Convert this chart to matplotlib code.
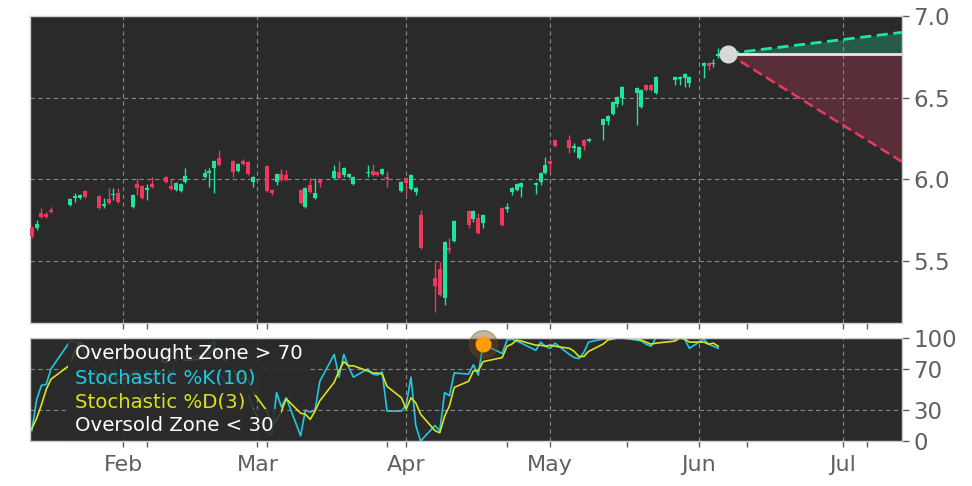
import numpy as np
import pandas as pd
import matplotlib
matplotlib.use("Agg")
import matplotlib.pyplot as plt
import matplotlib.dates as mdates

# ---------------- data ----------------
holidays = ["2025-01-20", "2025-02-17", "2025-04-18", "2025-05-26"]
dates = pd.bdate_range("2025-01-13", "2025-06-05")
dates = dates[~dates.isin(pd.to_datetime(holidays))]

opens = [5.702, 5.702, 5.794, 5.788, 5.813, 5.844, 5.887, 5.887, 5.929, 5.899,
         5.837, 5.880, 5.905, 5.917, 5.831, 5.972, 5.960, 5.936, 5.972, 6.015,
         5.960, 5.936, 5.929, 5.985, 6.015, 6.040, 6.071, 6.132, 6.113, 6.052,
         6.113, 6.107, 5.985, 6.083, 5.936, 5.985, 6.034, 6.028, 5.936, 5.831,
         5.966, 5.887, 5.997, 6.009, 6.046, 6.028, 6.015, 5.972, 6.040, 6.052,
         6.046, 6.034, 6.015, 5.929, 6.009, 5.942, 5.923, 5.782, 5.396, 5.451,
         5.273, 5.580, 5.623, 5.807, 5.758, 5.764, 5.733, 5.825, 5.819, 5.923,
         5.936, 5.954, 5.966, 5.985, 6.040, 6.113, 6.242, 6.242, 6.193, 6.132,
         6.242, 6.236, 6.334, 6.359, 6.402, 6.463, 6.500, 6.531, 6.445, 6.580,
         6.580, 6.531, 6.610, 6.617, 6.623, 6.592, 6.696, 6.715, 6.709, 6.752]
highs = [5.715, 5.752, 5.825, 5.801, 5.831, 5.887, 5.917, 5.911, 5.936, 5.905,
         5.887, 5.948, 5.948, 5.948, 5.911, 6.009, 5.966, 5.972, 6.015, 6.021,
         6.003, 5.985, 5.979, 6.071, 6.064, 6.071, 6.120, 6.181, 6.120, 6.101,
         6.126, 6.113, 6.021, 6.089, 5.942, 6.040, 6.064, 6.058, 5.942, 5.954,
         6.009, 6.009, 6.003, 6.089, 6.113, 6.077, 6.040, 6.021, 6.089, 6.095,
         6.052, 6.071, 6.052, 5.991, 6.015, 6.034, 5.954, 5.813, 5.494, 5.494,
         5.623, 5.641, 5.752, 5.813, 5.813, 5.794, 5.788, 5.831, 5.856, 5.954,
         5.979, 5.985, 5.985, 6.046, 6.138, 6.120, 6.248, 6.273, 6.224, 6.206,
         6.248, 6.255, 6.377, 6.396, 6.482, 6.512, 6.574, 6.567, 6.555, 6.586,
         6.586, 6.635, 6.635, 6.635, 6.653, 6.635, 6.721, 6.721, 6.739, 6.801]
lows = [5.641, 5.690, 5.764, 5.764, 5.794, 5.837, 5.862, 5.880, 5.887, 5.819,
        5.825, 5.850, 5.874, 5.856, 5.825, 5.905, 5.880, 5.874, 5.948, 5.979,
        5.936, 5.929, 5.923, 5.979, 6.009, 5.954, 5.917, 6.083, 6.015, 6.046,
        6.089, 6.028, 5.954, 5.923, 5.905, 5.966, 5.991, 5.991, 5.850, 5.825,
        5.917, 5.880, 5.954, 6.003, 6.003, 6.015, 6.009, 5.966, 6.015, 6.021,
        6.021, 6.028, 5.954, 5.923, 5.911, 5.936, 5.905, 5.574, 5.187, 5.285,
        5.230, 5.549, 5.617, 5.702, 5.739, 5.666, 5.702, 5.715, 5.801, 5.905,
        5.929, 5.893, 5.911, 5.966, 6.034, 6.046, 6.199, 6.163, 6.169, 6.126,
        6.181, 6.230, 6.242, 6.334, 6.396, 6.445, 6.457, 6.334, 6.439, 6.543,
        6.543, 6.525, 6.580, 6.580, 6.567, 6.567, 6.623, 6.672, 6.690, 6.745]
closes = [5.653, 5.727, 5.770, 5.770, 5.801, 5.880, 5.899, 5.905, 5.893, 5.825,
          5.850, 5.856, 5.911, 5.862, 5.905, 5.948, 5.887, 5.948, 5.954, 5.985,
          5.942, 5.979, 5.972, 6.021, 6.040, 6.052, 6.113, 6.089, 6.046, 6.095,
          6.095, 6.034, 6.015, 5.929, 5.917, 6.034, 5.997, 5.997, 5.856, 5.948,
          5.923, 5.917, 5.979, 6.052, 6.009, 6.071, 6.034, 6.015, 6.046, 6.028,
          6.028, 6.064, 6.003, 5.985, 5.979, 6.028, 5.948, 5.580, 5.347, 5.291,
          5.617, 5.567, 5.745, 5.721, 5.807, 5.672, 5.782, 5.721, 5.831, 5.948,
          5.972, 5.979, 5.979, 6.040, 6.089, 6.095, 6.206, 6.193, 6.206, 6.199,
          6.206, 6.248, 6.371, 6.390, 6.475, 6.506, 6.567, 6.561, 6.549, 6.549,
          6.549, 6.629, 6.629, 6.629, 6.647, 6.629, 6.715, 6.696, 6.715, 6.770]

stoch_k = [10, 40, 54, 55, 70, 97, 96, 95, 85, 62,
           65, 50, 80, 44, 67, 68, 36, 68, 69, 82,
           60, 79, 75, 80, 84, 90, 97, 65, 49, 67,
           67, 46, 32, 8, 6, 47, 33, 42, 5, 30,
           28, 30, 58, 84, 62, 84, 72, 62, 70, 65,
           64, 67, 29, 29, 35, 62, 15, 0, 15, 10,
           47, 44, 66, 65, 74, 64, 94, 85, 98, 99,
           97, 95, 88, 96, 92, 90, 95, 84, 81, 80,
           86, 96, 99, 99, 100, 100, 100, 98, 97, 94,
           92, 100, 99, 100, 99, 90, 99, 94, 92, 90]
stoch_d = [12, 22, 35, 50, 60, 74, 88, 96, 92, 81,
           71, 59, 65, 58, 64, 60, 57, 57, 58, 73,
           70, 74, 71, 78, 80, 85, 90, 84, 70, 60,
           61, 60, 48, 29, 15, 20, 29, 41, 27, 26,
           21, 29, 39, 57, 68, 77, 73, 73, 68, 66,
           66, 65, 53, 42, 31, 42, 37, 26, 10, 8,
           24, 34, 52, 58, 68, 68, 77, 81, 92, 94,
           98, 97, 93, 93, 92, 93, 92, 90, 87, 82,
           82, 87, 94, 98, 99, 100, 100, 99, 98, 96,
           94, 95, 97, 100, 99, 96, 96, 94, 95, 92]

signal_date = "2025-04-17"
signal_value = 94

forecast_dates = ["2025-06-07", "2025-07-13 07:00"]
forecast_mid = [6.77, 6.77]
forecast_high = [6.77, 6.90]
forecast_low = [6.77, 6.107]

x_left, x_right = "2025-01-12 15:00", "2025-07-13 07:00"
month_ticks = ["2025-02-01", "2025-03-01", "2025-04-01", "2025-05-01", "2025-06-01", "2025-07-01"]
month_labels = ["Feb", "Mar", "Apr", "May", "Jun", "Jul"]
minor_ticks = ["2025-02-06", "2025-03-03", "2025-03-28", "2025-04-22", "2025-05-17", "2025-06-11", "2025-07-06"]
price_ticks = [5.5, 6.0, 6.5, 7.0]
stoch_ticks = [0, 30, 70, 100]
stoch_labels = ["Overbought Zone > 70", "Stochastic %K(10)", "Stochastic %D(3)", "Oversold Zone < 30"]

# ---------------- style ----------------
BG = "#2a2a2a"
UP = "#1fe59c"
DN = "#f0385e"
GRID = "#a0a0a0"
TXT = "#606060"
SPINE = "#cfcfcf"

fig = plt.figure(figsize=(9.72, 4.86), dpi=100, facecolor="white")
W, H = 972.0, 486.0
ax = fig.add_axes([30 / W, 1 - 323 / H, 872 / W, (323 - 16) / H])
ax2 = fig.add_axes([30 / W, 1 - 441 / H, 872 / W, (441 - 338) / H])

xd = mdates.date2num(dates)
o = np.array(opens); h = np.array(highs); l = np.array(lows); c = np.array(closes)
up = c >= o
cols = np.where(up, UP, DN)

for a in (ax, ax2):
    a.set_facecolor(BG)
    for s in a.spines.values():
        s.set_color(SPINE)
        s.set_linewidth(1.0)
    a.set_xlim(mdates.datestr2num(x_left), mdates.datestr2num(x_right))
    a.set_xticks(mdates.datestr2num(month_ticks))
    a.set_xticks(mdates.datestr2num(minor_ticks), minor=True)
    a.grid(True, which="major", color=GRID, linestyle=(0, (4, 3)), linewidth=0.8, alpha=0.8)
    a.yaxis.tick_right()
    a.tick_params(axis="y", which="major", colors=TXT, labelsize=16.5, length=5, width=1, pad=3)
    a.tick_params(axis="x", which="both", colors=TXT, length=4, width=1)

# candles
ax.vlines(xd, l, h, colors=cols, linewidth=1.0, zorder=3)
body = np.maximum(np.abs(c - o), 0.004)
ax.bar(xd, body, bottom=np.minimum(o, c), width=0.85, color=cols, linewidth=0, zorder=4)

# forecast cone
fx = mdates.datestr2num(forecast_dates)
ax.fill_between(fx, forecast_mid, forecast_high, color="#20e0a0", alpha=0.27, linewidth=0, zorder=2)
ax.fill_between(fx, forecast_mid, forecast_low, color="#e83b63", alpha=0.25, linewidth=0, zorder=2)
ax.plot(fx, forecast_high, color="#22e3a0", linestyle=(0, (4, 2)), linewidth=2.0, zorder=5)
ax.plot(fx, forecast_low, color="#e83b63", linestyle=(0, (4, 2)), linewidth=1.8, zorder=5)
ax.plot(fx, forecast_mid, color="#e6e6e6", linewidth=2.0, zorder=5)
ax.plot(fx[0], forecast_mid[0], "o", color="#d9d9d9", markersize=12, zorder=6)

ax.set_ylim(5.12, 7.0)
ax.set_yticks(price_ticks)
ax.set_yticklabels([f"{v:.1f}" for v in price_ticks])
ax.tick_params(axis="x", labelbottom=False)

# stochastic
ax2.plot(xd, stoch_k, color="#1fc8e3", linewidth=1.2, zorder=1.5)
ax2.plot(xd, stoch_d, color="#d8e21e", linewidth=1.2, zorder=1.6)
sx = mdates.datestr2num(signal_date)
ax2.plot(sx, signal_value, "o", color="#6e4a1c", alpha=0.4, markersize=20, zorder=4, clip_on=False)
ax2.plot(sx, signal_value, "o", color="#ff9c00", markersize=10.5, zorder=5, clip_on=False)
ax2.set_ylim(0, 100)
ax2.set_yticks(stoch_ticks)
ax2.grid(True, axis="y", which="major", color=GRID, linestyle=(0, (4, 3)), linewidth=0.8, alpha=0.8)
ax2.set_xticklabels(month_labels)
ax2.tick_params(axis="x", which="major", labelsize=16, pad=6)

# legend: each label on its own dark background strip
label_cols = ["white", "#1fc8e3", "#d8e21e", "white"]
label_y = [0.854, 0.612, 0.379, 0.146]
for t, cc, yy in zip(stoch_labels, label_cols, label_y):
    ax2.text(45 / 872, yy, t, transform=ax2.transAxes, color=cc, fontsize=14.2,
             va="center", ha="left", zorder=2.2, clip_on=True,
             bbox=dict(boxstyle="square,pad=0.36", facecolor=BG, edgecolor="none", alpha=0.85))

fig.savefig("out.png", dpi=100, facecolor="white")
